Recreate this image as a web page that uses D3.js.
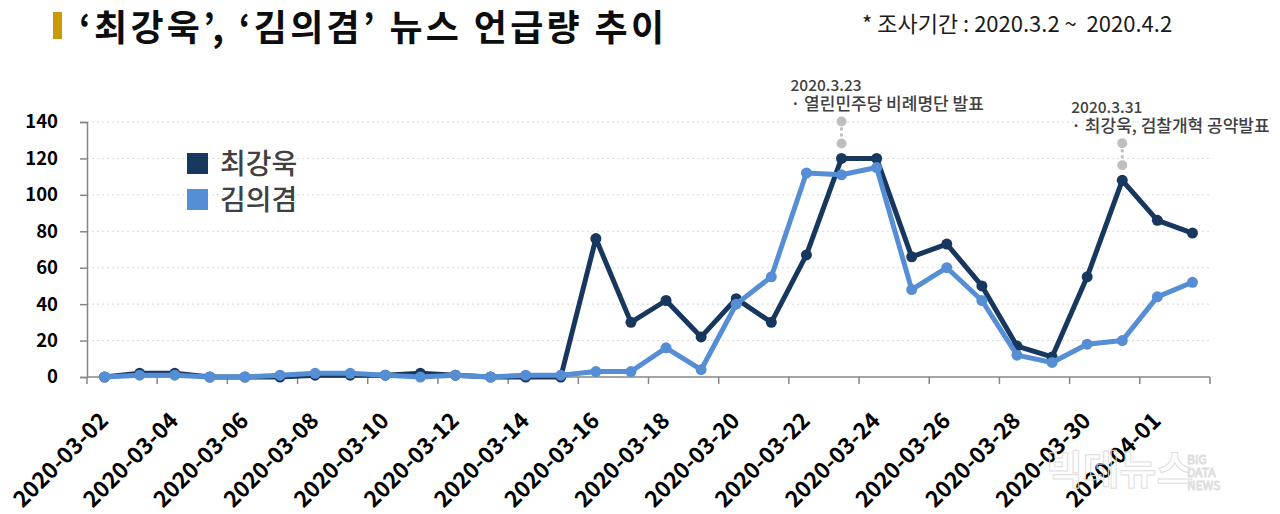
<!DOCTYPE html>
<html>
<head>
<meta charset="utf-8">
<script src="https://cdn.jsdelivr.net/npm/d3@7"></script>
<style>
  body { margin: 0; background: #fff; }
  svg { display: block; font-family: "Noto Sans CJK KR", "Noto Sans", sans-serif; }
</style>
</head>
<body>
<div id="chart"></div>
<script>
// dates 2020-03-02 ~ 2020-04-02
const dates = [
    "2020-03-02", "2020-03-03", "2020-03-04", "2020-03-05", "2020-03-06", "2020-03-07",
    "2020-03-08", "2020-03-09", "2020-03-10", "2020-03-11", "2020-03-12", "2020-03-13",
    "2020-03-14", "2020-03-15", "2020-03-16", "2020-03-17", "2020-03-18", "2020-03-19",
    "2020-03-20", "2020-03-21", "2020-03-22", "2020-03-23", "2020-03-24", "2020-03-25",
    "2020-03-26", "2020-03-27", "2020-03-28", "2020-03-29", "2020-03-30", "2020-03-31",
    "2020-04-01", "2020-04-02"
];
const choiValues = [0, 2, 2, 0, 0, 0, 1, 1, 1, 2, 1, 0, 0, 0, 76, 30, 42, 22, 43, 30, 67, 120, 120, 66, 73, 50, 17, 11, 55, 108, 86, 79];
const kimValues = [0, 1, 1, 0, 0, 1, 2, 2, 1, 0, 1, 0, 1, 1, 3, 3, 16, 4, 40, 55, 112, 111, 115, 48, 60, 42, 12, 8, 18, 20, 44, 52];
const yTicks = [0, 20, 40, 60, 80, 100, 120, 140];
const seriesNames = ["최강욱", "김의겸"];
const seriesColors = ["#17375e", "#558ed5"];
const notes = [
    { date: "2020-03-23", value: 120, title: "2020.3.23", text: "· 열린민주당 비례명단 발표" },
    { date: "2020-03-31", value: 108, title: "2020.3.31", text: "· 최강욱, 검찰개혁 공약발표" }
];

const W = 1280, H = 514;
const svg = d3.select("#chart").append("svg").attr("width", W).attr("height", H);

var x = d3.scaleBand().domain(dates).range([87, 1210]).padding(0);
var y = d3.scaleLinear().domain([0, 140]).range([377, 122]);
const cx = (d) => x(d) + x.bandwidth() / 2;

// title
svg.append("rect").attr("x", 53).attr("y", 12).attr("width", 9).attr("height", 27).attr("fill", "#c99a06");
svg.append("text").attr("x", 79).attr("y", 41)
    .attr("font-size", 36).attr("font-weight", "bold").attr("fill", "#0d0d0d")
    .attr("letter-spacing", 3.3)
    .text("‘최강욱’, ‘김의겸’ 뉴스 언급량 추이");
svg.append("text").attr("x", 862).attr("y", 32)
    .attr("font-size", 22).attr("fill", "#1a1a1a")
    .attr("xml:space", "preserve")
    .text("* 조사기간 : 2020.3.2 ~  2020.4.2");

// grid lines
svg.append("g").selectAll("line").data(yTicks.filter(d => d > 0)).join("line")
    .attr("x1", 87).attr("x2", 1210)
    .attr("y1", d => y(d)).attr("y2", d => y(d))
    .attr("stroke", "#d9d9d9").attr("stroke-width", 1).attr("stroke-dasharray", "2,3");

// y axis
const yAxis = svg.append("g").attr("transform", "translate(87,0)")
    .call(d3.axisLeft(y).tickValues(yTicks).tickSize(7).tickPadding(22));
yAxis.select(".domain").attr("stroke", "#868686").attr("stroke-width", 1.5);
yAxis.selectAll(".tick line").attr("stroke", "#868686").attr("stroke-width", 1.5);
yAxis.selectAll(".tick text").attr("font-size", 18.5).attr("font-weight", "bold")
    .attr("fill", "#000").attr("font-family", "\"Noto Sans CJK KR\", sans-serif");

// x axis
svg.append("line").attr("x1", 87).attr("x2", 1210).attr("y1", y(0)).attr("y2", y(0))
    .attr("stroke", "#868686").attr("stroke-width", 1.5);
const tickPos = dates.filter((d, i) => i % 2 === 0).map(d => x(d)).concat([x.range()[1]]);
svg.append("g").selectAll("line").data(tickPos).join("line")
    .attr("x1", d => d).attr("x2", d => d)
    .attr("y1", y(0)).attr("y2", y(0) + 7)
    .attr("stroke", "#868686").attr("stroke-width", 1.5);
svg.append("g").selectAll("text").data(dates.filter((d, i) => i % 2 === 0)).join("text")
    .attr("transform", d => `translate(${cx(d) + 5},${422}) rotate(-45)`)
    .attr("text-anchor", "end")
    .attr("font-size", 22.5).attr("font-weight", "bold").attr("fill", "#000")
    .text(d => d);

// watermark (logo outline)
const wm = svg.append("g").attr("fill", "none").attr("stroke", "#dedede").attr("stroke-width", 1);
wm.append("text").attr("x", 1046).attr("y", 484).attr("font-size", 40).attr("font-weight", "bold").text("빅데뉴스");
wm.append("text").attr("x", 1187).attr("y", 464).attr("font-size", 12)
    .selectAll("tspan").data(["BIG", "DATA", "NEWS"]).join("tspan")
    .attr("x", 1187).attr("dy", (d, i) => i ? 13 : 0).text(d => d);

// lines
const line = d3.line().x((d, i) => cx(dates[i])).y(d => y(d));
[choiValues, kimValues].forEach((vals, k) => {
    svg.append("path").datum(vals).attr("d", line)
        .attr("fill", "none").attr("stroke", seriesColors[k])
        .attr("stroke-width", 5).attr("stroke-linejoin", "round");
    svg.append("g").selectAll("circle").data(vals).join("circle")
        .attr("cx", (d, i) => cx(dates[i])).attr("cy", d => y(d))
        .attr("r", 5.5).attr("fill", seriesColors[k]);
});

// annotations
notes.forEach((n) => {
    const px = cx(n.date);
    const top = y(n.value) - 37, bot = y(n.value) - 15;
    svg.append("line").attr("x1", px).attr("x2", px).attr("y1", top).attr("y2", bot)
        .attr("stroke", "#bfbfbf").attr("stroke-width", 3).attr("stroke-dasharray", "3,3");
    svg.append("circle").attr("cx", px).attr("cy", top).attr("r", 5).attr("fill", "#bfbfbf");
    svg.append("circle").attr("cx", px).attr("cy", bot).attr("r", 5).attr("fill", "#bfbfbf");
    svg.append("text").attr("x", px - 51).attr("y", top - 30)
        .attr("font-size", 15.5).attr("font-weight", 500).attr("fill", "#404040").text(n.title);
    svg.append("text").attr("x", px - 51).attr("y", top - 11)
        .attr("font-size", 17).attr("font-weight", 500).attr("fill", "#404040").text(n.text);
});

// legend
const legend = svg.append("g");
seriesNames.forEach((name, i) => {
    legend.append("rect").attr("x", 187).attr("y", 153 + i * 36).attr("width", 21).attr("height", 21)
        .attr("fill", seriesColors[i]);
    legend.append("text").attr("x", 220).attr("y", 174 + i * 36)
        .attr("font-size", 28).attr("font-weight", 500).attr("fill", "#404040").text(name);
});
</script>
</body>
</html>
